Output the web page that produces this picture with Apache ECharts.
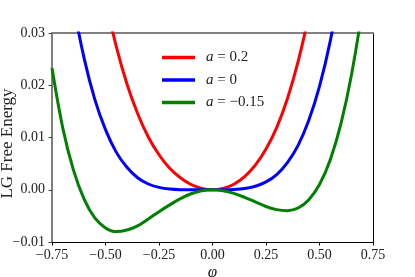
<!DOCTYPE html>
<html>
<head>
<meta charset="utf-8">
<script src="https://cdn.jsdelivr.net/npm/echarts@6/dist/echarts.min.js"></script>
<style>
html,body{margin:0;padding:0;background:#fff;}
#chart{width:415px;height:277px;}
</style>
</head>
<body>
<div id="chart"></div>
<script>
// phi sample positions (x axis)
var phi = [-0.75,-0.70,-0.65,-0.60,-0.55,-0.50,-0.45,-0.40,-0.35,-0.30,-0.25,-0.20,-0.15,-0.10,-0.05,0,
           0.05,0.10,0.15,0.20,0.25,0.30,0.35,0.40,0.45,0.50,0.55,0.60,0.65,0.70,0.75];
// a = 0.2 (red)
var redVals = [0.121,0.0976,0.0777,0.0612,0.0476,0.0365,0.0275,0.0203,0.0146,0.0101,0.0067,0.0041,0.0023,0.0010,0.00025,0,
               0.00026,0.00106,0.0025,0.0047,0.0078,0.0119,0.0174,0.0245,0.0335,0.0448,0.0587,0.075,0.094,0.116,0.141];
// a = 0 (blue)
var blueVals = [0.0650,0.0486,0.0355,0.0252,0.0173,0.0115,0.0072,0.0043,0.0023,0.0011,0.00046,0.00013,0.00001,-0.00001,0,0,
                0.00001,0.00006,0.00024,0.00067,0.0015,0.0029,0.0052,0.0085,0.0133,0.0198,0.0284,0.0396,0.0538,0.0715,0.0932];
// a = -0.15 (green)
var greenVals = [0.0233,0.0119,0.0038,-0.0018,-0.0054,-0.0073,-0.0080,-0.0077,-0.0069,-0.0056,-0.0042,-0.0029,-0.0017,-0.00076,-0.00019,0,
                 -0.00018,-0.00069,-0.00145,-0.00233,-0.0032,-0.0038,-0.0040,-0.0035,-0.0019,0.0010,0.0057,0.0126,0.0221,0.0347,0.0510];
var seriesNames = ['a = 0.2','a = 0','a = \u22120.15'];
var seriesColors = ['#ff0000','#0000ff','#008000'];
var xTicks = [-0.75,-0.5,-0.25,0,0.25,0.5,0.75];
var yTicks = [-0.01,0,0.01,0.02,0.03];

function pairs(v){ return phi.map(function(x,i){ return [x, v[i]]; }); }
function fmt(v){ var s = v.toFixed(2); if (s === '-0.00') s = '0.00'; return s.replace('-', '\u2212'); }

var serif = '"Liberation Serif","DejaVu Serif",serif';
var chart = echarts.init(document.getElementById('chart'), null, {renderer:'canvas'});
var allVals = [redVals, blueVals, greenVals];
chart.setOption({
  animation:false,
  backgroundColor:'#ffffff',
  grid:{left:52,right:42,top:33,bottom:35,containLabel:false,outerBoundsMode:'none'},
  legend:{
    orient:'vertical', left:157, top:45, itemWidth:33, itemHeight:14, itemGap:7.5,
    data:seriesNames.map(function(n,i){ return {name:n, icon:'path://M0,0L10,0L10,1L0,1Z', itemStyle:{color:seriesColors[i]}}; }),
    textStyle:{fontFamily:serif, fontSize:15, color:'#222', padding:[0,0,0,6],
      rich:{i:{fontFamily:serif, fontStyle:'italic', fontSize:15, color:'#222'}, n:{fontFamily:serif, fontSize:15, color:'#222'}}},
    formatter:function(name){ var rest = name.slice(1); return '{i|a}{n|' + rest + '}'; }
  },
  xAxis:[{
    type:'value', min:xTicks[0], max:xTicks[xTicks.length-1], interval:0.25,
    position:'bottom',
    name:'\u03c6', nameLocation:'middle', nameGap:22, nameMoveOverlap:false,
    nameTextStyle:{fontFamily:serif, fontStyle:'italic', fontSize:17, color:'#222'},
    axisLine:{show:true, onZero:false, lineStyle:{color:'#000', width:1}},
    axisTick:{show:true, inside:false, length:3.5, lineStyle:{color:'#000'}},
    axisLabel:{fontFamily:serif, fontSize:14, color:'#222', margin:6, formatter:fmt},
    splitLine:{show:false}
  },{
    type:'value', min:xTicks[0], max:xTicks[xTicks.length-1], position:'top',
    axisLine:{show:true, onZero:false, lineStyle:{color:'#808080', width:2}},
    axisTick:{show:false}, axisLabel:{show:false}, splitLine:{show:false}
  }],
  yAxis:[{
    type:'value', min:yTicks[0], max:yTicks[yTicks.length-1], interval:0.01,
    position:'left',
    name:'LG Free Energy', nameLocation:'middle', nameGap:36, nameMoveOverlap:false,
    nameTextStyle:{fontFamily:serif, fontSize:17, color:'#222', padding:[0,12,0,0]},
    axisLine:{show:true, onZero:false, lineStyle:{color:'#808080', width:2}},
    axisTick:{show:true, inside:false, length:3.5, lineStyle:{color:'#444'}},
    axisLabel:{fontFamily:serif, fontSize:14, color:'#222', margin:7, formatter:fmt},
    splitLine:{show:false}
  },{
    type:'value', min:yTicks[0], max:yTicks[yTicks.length-1], position:'right',
    axisLine:{show:true, onZero:false, lineStyle:{color:'#000', width:1}},
    axisTick:{show:false}, axisLabel:{show:false}, splitLine:{show:false}
  }],
  series:seriesNames.map(function(n,i){
    return {name:n, type:'line', xAxisIndex:0, yAxisIndex:0, data:pairs(allVals[i]),
      smooth:0.35, symbol:'none', clip:true,
      lineStyle:{color:seriesColors[i], width:3}, itemStyle:{color:seriesColors[i]}};
  })
});
</script>
</body>
</html>
